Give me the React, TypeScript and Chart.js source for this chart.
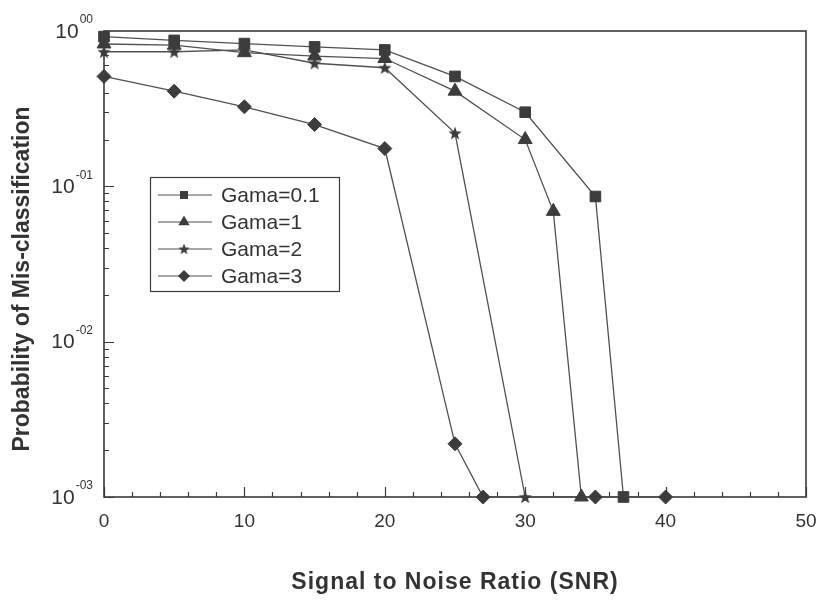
import React, { useEffect, useRef } from 'react';
import { Chart, registerables } from 'chart.js';

Chart.register(...registerables);

// ---- data ----
const SNR_G01 = [0, 5, 10, 15, 20, 25, 30, 35, 37];
const PM_G01 = [0.92, 0.87, 0.83, 0.79, 0.755, 0.51, 0.3, 0.086, 0.001];

const SNR_G1 = [0, 5, 10, 15, 20, 25, 30, 32, 34];
const PM_G1 = [0.825, 0.81, 0.725, 0.69, 0.665, 0.41, 0.2, 0.069, 0.001];

const SNR_G2 = [0, 5, 10, 15, 20, 25, 30];
const PM_G2 = [0.735, 0.735, 0.755, 0.62, 0.58, 0.22, 0.001];

const SNR_G3 = [0, 5, 10, 15, 20, 25, 27, 35, 40];
const PM_G3 = [0.51, 0.41, 0.325, 0.25, 0.175, 0.0022, 0.001, 0.001, 0.001];

const SERIES_LABELS = ['Gama=0.1', 'Gama=1', 'Gama=2', 'Gama=3'];

const X_MIN = 0;
const X_MAX = 50;
const X_LABEL_STEP = 10;
const X_MINOR_STEP = 2;
const Y_MIN = 0.001;
const Y_MAX = 1;
const Y_TICK_VALUES = [1, 0.1, 0.01, 0.001];
const Y_TICK_EXPONENTS = ['00', '-01', '-02', '-03'];

const X_TITLE = 'Signal to Noise Ratio (SNR)';
const Y_TITLE = 'Probability of Mis-classification';

// ---- styles ----
const FONT = "'Liberation Sans', Arial, Helvetica, sans-serif";
const TEXT = '#333333';
const AXIS = '#3a3a3a';
const LINE = '#505050';
const MARK = '#3c3c3c';

function makeStar(size: number, color: string) {
  const c = document.createElement('canvas');
  c.width = size;
  c.height = size;
  const g = c.getContext('2d')!;
  const cx = size / 2;
  const cy = size / 2 + size * 0.04;
  const R = size / 2;
  const r = R * 0.42;
  g.beginPath();
  for (let i = 0; i < 10; i++) {
    const a = -Math.PI / 2 + (i * Math.PI) / 5;
    const rr = i % 2 === 0 ? R : r;
    g.lineTo(cx + rr * Math.cos(a), cy + rr * Math.sin(a));
  }
  g.closePath();
  g.fillStyle = color;
  g.fill();
  return c;
}

function drawMarker(ctx: CanvasRenderingContext2D, style: any, x: number, y: number, scale: number) {
  ctx.fillStyle = MARK;
  ctx.beginPath();
  if (style === 'rect') {
    const h = 4 * scale;
    ctx.rect(x - h, y - h, 2 * h, 2 * h);
    ctx.fill();
  } else if (style === 'triangle') {
    const r = 6.5 * scale;
    ctx.moveTo(x, y - r);
    ctx.lineTo(x + r * 0.866, y + r * 0.5);
    ctx.lineTo(x - r * 0.866, y + r * 0.5);
    ctx.closePath();
    ctx.fill();
  } else if (style === 'rectRot') {
    const r = 6 * scale;
    ctx.moveTo(x - r, y);
    ctx.lineTo(x, y - r);
    ctx.lineTo(x + r, y);
    ctx.lineTo(x, y + r);
    ctx.closePath();
    ctx.fill();
  } else if (style && style.width) {
    const w = style.width * 0.85 * scale;
    ctx.drawImage(style, x - w / 2, y - w / 2, w, w);
  }
}

const decorPlugin = {
  id: 'decor',
  beforeDatasetsDraw(chart: any) {
    const { ctx, chartArea: a, scales } = chart;
    const xs = scales.x;
    const ys = scales.y;
    ctx.save();
    ctx.strokeStyle = AXIS;
    ctx.lineWidth = 1.2;
    // inward tick marks on x axis
    ctx.beginPath();
    for (let v = X_MIN; v <= X_MAX; v += X_MINOR_STEP) {
      const px = Math.round(xs.getPixelForValue(v)) + 0.5;
      const len = v % X_LABEL_STEP === 0 ? 10 : 5;
      ctx.moveTo(px, a.bottom);
      ctx.lineTo(px, a.bottom - len);
    }
    // inward tick marks on y axis
    for (let d = Math.log10(Y_MIN); d < Math.log10(Y_MAX); d++) {
      for (let m = 1; m <= 9; m++) {
        const v = m * Math.pow(10, d);
        const py = Math.round(ys.getPixelForValue(v)) + 0.5;
        const len = m === 1 ? 10 : 5;
        ctx.moveTo(a.left, py);
        ctx.lineTo(a.left + len, py);
      }
    }
    ctx.stroke();
    // frame
    ctx.lineWidth = 1.6;
    ctx.strokeRect(a.left, a.top, a.right - a.left, a.bottom - a.top);
    ctx.restore();
  },
  afterDraw(chart: any) {
    const { ctx, chartArea: a, scales } = chart;
    const ys = scales.y;
    ctx.save();
    ctx.fillStyle = TEXT;
    // y tick labels with superscript exponents
    Y_TICK_VALUES.forEach((v, i) => {
      const py = ys.getPixelForValue(v);
      const exp = Y_TICK_EXPONENTS[i];
      ctx.font = `12px ${FONT}`;
      const ew = ctx.measureText(exp).width;
      const right = a.left - 11;
      ctx.textAlign = 'left';
      ctx.textBaseline = 'middle';
      ctx.fillText(exp, right - ew, py - 11);
      ctx.font = `21px ${FONT}`;
      ctx.textAlign = 'right';
      ctx.fillText('10', right - ew - 1, py + 1);
    });
    // axis titles
    ctx.font = `bold 23px ${FONT}`;
    ctx.textAlign = 'center';
    ctx.textBaseline = 'middle';
    (ctx as any).letterSpacing = '1px';
    ctx.fillText(X_TITLE, (a.left + a.right) / 2, 583);
    (ctx as any).letterSpacing = '0px';
    ctx.save();
    ctx.translate(23, (a.top + a.bottom) / 2 + 15);
    ctx.rotate(-Math.PI / 2);
    ctx.fillText(Y_TITLE, 0, 0);
    ctx.restore();

    // legend
    const lx = 150;
    const ly = 177;
    const lw = 189;
    const lh = 114;
    ctx.fillStyle = '#ffffff';
    ctx.fillRect(lx, ly, lw, lh);
    ctx.strokeStyle = AXIS;
    ctx.lineWidth = 1.2;
    ctx.strokeRect(lx + 0.5, ly + 0.5, lw, lh);
    chart.data.datasets.forEach((ds: any, i: number) => {
      const ry = ly + 18 + i * 27;
      ctx.strokeStyle = LINE;
      ctx.lineWidth = 1.2;
      ctx.beginPath();
      ctx.moveTo(lx + 8, ry);
      ctx.lineTo(lx + 62, ry);
      ctx.stroke();
      drawMarker(ctx, ds.pointStyle, lx + 34, ry, 1);
      ctx.fillStyle = TEXT;
      ctx.font = `21px ${FONT}`;
      ctx.textAlign = 'left';
      ctx.textBaseline = 'middle';
      ctx.fillText(ds.label, lx + 71, ry + 1);
    });
    ctx.restore();
  },
};

function toPoints(xs: number[], ys: number[]) {
  return xs.map((x, i) => ({ x, y: ys[i] }));
}

export default function App() {
  const ref = useRef<HTMLCanvasElement | null>(null);

  useEffect(() => {
    if (!ref.current) return;
    const star = makeStar(14, MARK);
    const common = {
      borderColor: LINE,
      borderWidth: 1.3,
      pointBackgroundColor: MARK,
      pointBorderColor: MARK,
      pointBorderWidth: 1,
      fill: false,
      tension: 0,
      clip: false as any,
    };
    const chart = new Chart(ref.current, {
      type: 'line',
      data: {
        datasets: [
          { ...common, label: SERIES_LABELS[0], data: toPoints(SNR_G01, PM_G01), pointStyle: 'rect', pointRadius: 7.5 },
          { ...common, label: SERIES_LABELS[1], data: toPoints(SNR_G1, PM_G1), pointStyle: 'triangle', pointRadius: 8 },
          { ...common, label: SERIES_LABELS[2], data: toPoints(SNR_G2, PM_G2), pointStyle: star as any, pointRadius: 7 },
          { ...common, label: SERIES_LABELS[3], data: toPoints(SNR_G3, PM_G3), pointStyle: 'rectRot', pointRadius: 7 },
        ],
      },
      options: {
        animation: false,
        responsive: false,
        layout: { padding: { top: 31, right: 15, left: 0, bottom: 0 } },
        plugins: {
          legend: { display: false },
          tooltip: { enabled: false },
        },
        scales: {
          x: {
            type: 'linear',
            min: X_MIN,
            max: X_MAX,
            grid: { display: false, drawTicks: false },
            border: { display: false },
            ticks: {
              stepSize: X_LABEL_STEP,
              padding: 13,
              color: TEXT,
              maxRotation: 0,
              font: { family: FONT, size: 19 },
            },
            afterFit: (s: any) => {
              s.height = 104;
              s.paddingLeft = 0;
              s.paddingRight = 0;
            },
          },
          y: {
            type: 'logarithmic',
            min: Y_MIN,
            max: Y_MAX,
            grid: { display: false, drawTicks: false },
            border: { display: false },
            ticks: { display: false },
            afterFit: (s: any) => {
              s.width = 104;
              s.paddingTop = 0;
              s.paddingBottom = 0;
            },
          },
        },
      },
      plugins: [decorPlugin],
    });
    return () => chart.destroy();
  }, []);

  return (
    <div style={{ position: 'absolute', left: 0, top: 0, width: 821, height: 601, background: '#fff' }}>
      <canvas ref={ref} width={821} height={601} style={{ display: 'block' }} />
    </div>
  );
}
